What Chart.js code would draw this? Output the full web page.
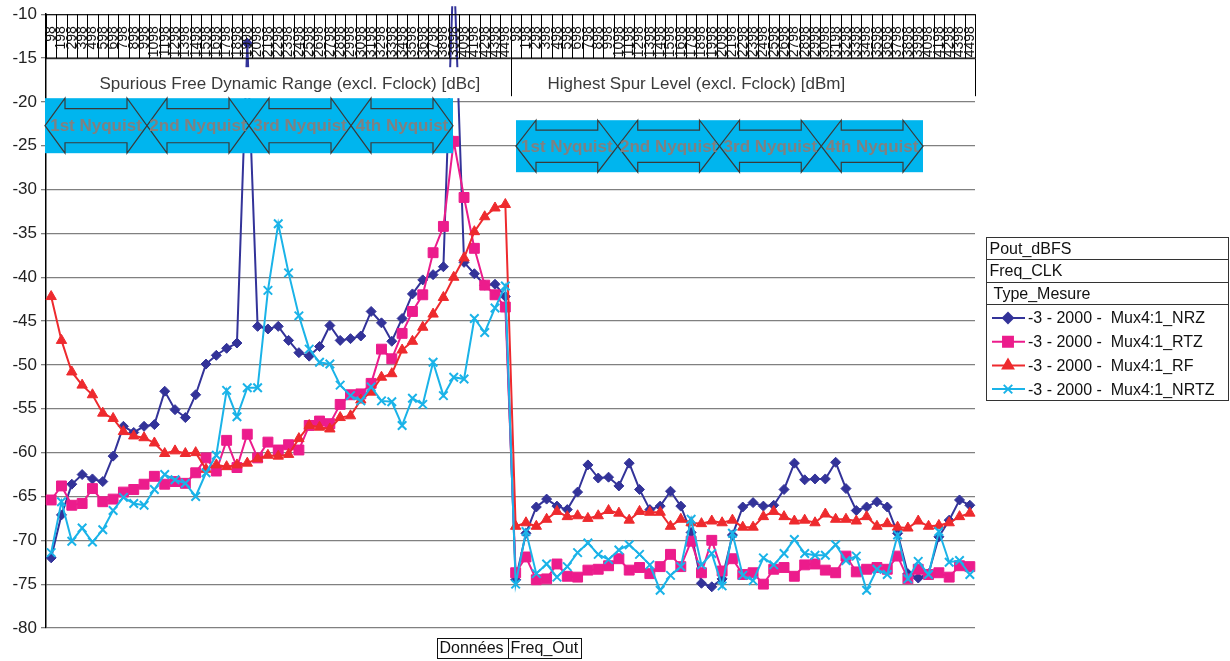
<!DOCTYPE html>
<html>
<head>
<meta charset="utf-8">
<script src="https://cdn.jsdelivr.net/npm/chart.js@4.4.0/dist/chart.umd.min.js"></script>
<style>
body { margin: 0; background: #fff; }
#wrap { width: 1230px; height: 661px; position: relative; }
</style>
</head>
<body>
<div id="wrap"><canvas id="spurChart" width="1230" height="661"></canvas></div>
<script>
// Freq_Out categories, repeated in each measurement group
var freqLabels = ['98','198','298','398','498','598','698','798','898','998',
  '1098','1198','1298','1398','1498','1598','1698','1798','1898','1998',
  '2098','2198','2298','2398','2498','2598','2698','2798','2898','2998',
  '3098','3198','3298','3398','3498','3598','3698','3798','3898','3998',
  '4098','4198','4298','4398','4498'];
var groupLabels = ['Spurious Free Dynamic Range (excl. Fclock) [dBc]', 'Highest Spur Level (excl. Fclock) [dBm]'];
var seriesNames = ['-3 - 2000 -  Mux4:1_NRZ', '-3 - 2000 -  Mux4:1_RTZ', '-3 - 2000 -  Mux4:1_RF', '-3 - 2000 -  Mux4:1_NRTZ'];
var pivotFields = ['Pout_dBFS', 'Freq_CLK', 'Type_Mesure'];
var pivotRows = ['Données', 'Freq_Out'];
var nyquistLabels = ['1st Nyquist', '2nd Nyquist', '3rd Nyquist', '4th Nyquist'];

var nrzSfdr = [-72.0,-67.1,-63.6,-62.5,-63.0,-63.3,-60.4,-57.0,-57.7,-57.0,
  -56.8,-53.0,-55.1,-56.0,-53.4,-49.9,-48.9,-48.1,-47.5,-13.3,
  -45.6,-45.9,-45.6,-47.2,-48.6,-49.0,-47.9,-45.5,-47.2,-47.0,
  -46.7,-43.9,-45.2,-47.3,-44.7,-41.9,-40.3,-39.7,-38.8,-4.0,
  -38.3,-39.6,-40.9,-40.8,-42.2];
var nrzSpur = [-74.5,-69.2,-66.2,-65.3,-66.1,-66.5,-64.5,-61.4,-62.9,-62.8,
  -63.8,-61.2,-64.2,-66.5,-66.1,-64.4,-66.1,-69.1,-74.9,-75.3,
  -74.4,-69.4,-66.2,-65.7,-66.1,-66.0,-64.2,-61.2,-63.1,-63.0,
  -63.0,-61.1,-64.1,-66.6,-66.2,-65.6,-66.2,-69.2,-73.8,-74.3,
  -73.8,-69.6,-67.7,-65.4,-66.0];
var rtzSfdr = [-65.4,-63.8,-66.0,-65.8,-64.1,-65.6,-65.3,-64.5,-64.2,-63.6,
  -62.7,-63.6,-63.3,-63.5,-62.3,-60.6,-62.1,-58.6,-61.7,-57.9,
  -60.6,-58.8,-59.7,-59.1,-59.7,-56.9,-56.4,-56.7,-54.5,-53.4,
  -53.3,-52.1,-48.2,-49.3,-46.4,-43.9,-42.0,-37.2,-34.2,-24.5,
  -30.9,-36.7,-40.9,-42.0,-43.4];
var rtzSpur = [-73.7,-71.9,-74.5,-74.4,-72.7,-74.1,-74.2,-73.4,-73.3,-72.9,
  -72.1,-73.4,-73.1,-73.8,-73.0,-71.6,-73.0,-70.1,-73.7,-70.0,
  -73.5,-72.1,-73.9,-73.7,-75.0,-73.3,-73.1,-74.1,-72.8,-72.7,
  -73.4,-73.7,-71.8,-73.6,-73.3,-73.1,-73.3,-71.8,-74.4,-73.3,
  -73.9,-73.7,-74.2,-72.9,-73.0];
var rfSfdr = [-42.2,-47.2,-50.8,-52.3,-53.4,-55.5,-56.1,-57.6,-58.1,-58.3,
  -58.9,-60.1,-59.8,-60.1,-60.0,-61.9,-61.4,-61.6,-61.4,-61.2,
  -60.7,-60.3,-60.4,-60.2,-58.4,-56.9,-57.1,-57.3,-56.0,-55.8,
  -54.0,-53.1,-51.4,-51.0,-48.3,-47.3,-45.7,-44.2,-42.3,-40.0,
  -37.8,-34.8,-33.1,-32.1,-31.7];
var rfSpur = [-68.4,-68.0,-68.4,-67.6,-66.7,-67.3,-67.2,-67.5,-67.2,-66.6,
  -66.9,-67.7,-66.7,-66.8,-66.8,-68.4,-67.6,-68.0,-68.1,-67.8,
  -68.0,-67.7,-68.5,-68.5,-67.3,-66.7,-67.3,-67.8,-67.7,-68.0,
  -67.0,-67.6,-67.6,-67.8,-67.3,-68.4,-68.1,-68.5,-68.6,-67.8,
  -68.4,-68.3,-68.0,-67.3,-66.9];
var nrtzSfdr = [-71.4,-65.6,-70.1,-68.6,-70.2,-68.8,-66.6,-65.1,-65.8,-66.0,
  -64.2,-62.5,-63.1,-63.5,-65.0,-62.3,-60.3,-52.9,-55.9,-52.6,
  -52.6,-41.5,-33.9,-39.5,-44.4,-48.2,-49.7,-49.9,-52.3,-53.5,
  -54.1,-52.5,-54.1,-54.2,-56.9,-53.8,-54.5,-49.7,-53.5,-51.4,
  -51.6,-44.7,-46.3,-43.5,-41.0];
var nrtzSpur = [-75.0,-69.0,-73.8,-72.7,-74.2,-73.0,-71.4,-70.3,-71.6,-72.2,
  -71.1,-70.5,-71.6,-72.8,-75.7,-74.0,-73.0,-67.6,-72.8,-71.5,
  -75.2,-69.2,-74.0,-74.6,-72.0,-72.8,-71.5,-69.9,-71.5,-71.7,
  -71.7,-70.5,-72.3,-71.8,-75.7,-73.3,-73.9,-69.4,-74.4,-72.4,
  -73.9,-69.0,-72.5,-72.3,-73.9];

var FONT = '"Liberation Sans", Arial, sans-serif';
var labels = freqLabels.concat(freqLabels);

function drawArrow(c, x0, x1, y0, y1, text) {
  var hl = 20, ym = (y0 + y1) / 2, inset = (y1 - y0) * 0.19;
  c.beginPath();
  c.moveTo(x0, ym);
  c.lineTo(x0 + hl, y0); c.lineTo(x0 + hl, y0 + inset);
  c.lineTo(x1 - hl, y0 + inset); c.lineTo(x1 - hl, y0);
  c.lineTo(x1, ym);
  c.lineTo(x1 - hl, y1); c.lineTo(x1 - hl, y1 - inset);
  c.lineTo(x0 + hl, y1 - inset); c.lineTo(x0 + hl, y1);
  c.closePath();
  c.stroke();
  c.fillText(text, (x0 + x1) / 2, ym + 1);
}

function drawNyquistSet(c, x, y, w, h) {
  c.fillStyle = '#00B5EE';
  c.fillRect(x, y, w, h);
  c.strokeStyle = '#3a3a3a';
  c.lineWidth = 1.2;
  c.font = 'bold 17px ' + FONT;
  c.textAlign = 'center';
  c.textBaseline = 'middle';
  var step = w / nyquistLabels.length;
  nyquistLabels.forEach(function (t, i) {
    c.fillStyle = '#808080';
    drawArrow(c, x + i * step, x + (i + 1) * step, y, y + h, t);
  });
}

var overlay = {
  id: 'overlay',
  afterDatasetsDraw: function (chart) {
    var c = chart.ctx, xs = chart.scales.x, a = chart.chartArea;
    var n = labels.length, w = (a.right - a.left) / n;
    var bandBottom = a.top + 44;
    var split = a.left + freqLabels.length * w;
    c.save();
    // white box behind the group titles
    c.fillStyle = '#fff';
    c.fillRect(a.left + 1, a.top + 53, a.right - a.left - 2, 31);
    // category label band
    c.strokeStyle = '#000';
    c.lineWidth = 1;
    c.beginPath();
    c.moveTo(a.left, a.top + 0.5); c.lineTo(a.right, a.top + 0.5);
    c.moveTo(a.left, bandBottom + 0.5); c.lineTo(a.right, bandBottom + 0.5);
    for (var k = 0; k <= n; k++) {
      var bx = Math.round(a.left + k * w) + 0.5;
      c.moveTo(bx, a.top); c.lineTo(bx, bandBottom);
    }
    c.moveTo(Math.round(split) + 0.5, bandBottom); c.lineTo(Math.round(split) + 0.5, a.top + 82);
    c.moveTo(Math.round(a.right) + 0.5, bandBottom); c.lineTo(Math.round(a.right) + 0.5, a.top + 82);
    c.stroke();
    c.fillStyle = '#111';
    c.font = '14px ' + FONT;
    c.textAlign = 'right';
    c.textBaseline = 'middle';
    labels.forEach(function (lab, i) {
      c.save();
      c.translate(xs.getPixelForValue(i), a.top + 12);
      c.rotate(-Math.PI / 2);
      c.fillText(lab, 0, 0);
      c.restore();
    });
    // group titles
    c.fillStyle = '#3a3a3a';
    c.font = '17px ' + FONT;
    c.textAlign = 'center';
    c.fillText(groupLabels[0], a.left + (split - a.left) * 0.525, a.top + 70);
    c.fillText(groupLabels[1], split + (a.right - split) * 0.40, a.top + 70);
    // Nyquist zone markers
    drawNyquistSet(c, a.left - 1, a.top + 84, 408, 55);
    drawNyquistSet(c, 516, a.top + 106, 407, 52);
    c.restore();
  },
  afterDraw: function (chart) {
    var c = chart.ctx;
    c.save();
    c.strokeStyle = '#333';
    c.lineWidth = 1;
    c.font = '16px ' + FONT;
    c.textBaseline = 'middle';
    c.textAlign = 'left';
    c.fillStyle = '#111';
    // legend with pivot field buttons
    var lx = 986.5, ly = 237.5, lw = 242, rowH = [22, 23, 22];
    c.strokeRect(lx, ly, lw, 163);
    var yy = ly;
    pivotFields.forEach(function (f, i) {
      c.fillText(f, lx + (i === 2 ? 7 : 3), yy + rowH[i] / 2 + 1);
      yy += rowH[i];
      c.beginPath(); c.moveTo(lx, yy); c.lineTo(lx + lw, yy); c.stroke();
    });
    chart.data.datasets.forEach(function (ds, i) {
      var cy = 318 + i * 23.7;
      c.strokeStyle = ds.borderColor;
      c.fillStyle = ds.backgroundColor;
      c.lineWidth = 2;
      c.beginPath(); c.moveTo(992, cy); c.lineTo(1025, cy); c.stroke();
      Chart.helpers.drawPoint(c, { pointStyle: ds.pointStyle, radius: ds.pointRadius, rotation: 0, borderWidth: ds.pointBorderWidth }, 1008, cy);
      c.fillStyle = '#111';
      c.fillText(seriesNames[i], 1028, cy + 1);
    });
    // row field buttons
    c.strokeStyle = '#111';
    c.lineWidth = 1;
    var bx = 437.5;
    [71, 73].forEach(function (bw, i) {
      c.strokeRect(bx, 638.5, bw, 20);
      c.fillText(pivotRows[i], bx + 2, 649);
      bx += bw;
    });
    c.restore();
  }
};

var ctx = document.getElementById('spurChart').getContext('2d');
var spurChart = new Chart(ctx, {
  type: 'line',
  data: {
    labels: labels,
    datasets: [
      { label: seriesNames[0], data: nrzSfdr.concat(nrzSpur), borderColor: '#333399', backgroundColor: '#333399',
        pointStyle: 'rectRot', pointRadius: 5, pointBorderWidth: 1, borderWidth: 2, order: 4,
        clip: { left: 5, top: 8, right: 5, bottom: 5 } },
      { label: seriesNames[1], data: rtzSfdr.concat(rtzSpur), borderColor: '#EC1C8C', backgroundColor: '#EC1C8C',
        pointStyle: 'rect', pointRadius: 7, pointBorderWidth: 1, borderWidth: 2, order: 3 },
      { label: seriesNames[2], data: rfSfdr.concat(rfSpur), borderColor: '#EE2A2E', backgroundColor: '#EE2A2E',
        pointStyle: 'triangle', pointRadius: 6, pointBorderWidth: 1, borderWidth: 2, order: 2 },
      { label: seriesNames[3], data: nrtzSfdr.concat(nrtzSpur), borderColor: '#1AB3E8', backgroundColor: '#1AB3E8',
        pointStyle: 'crossRot', pointRadius: 6, pointBorderWidth: 2, borderWidth: 2, order: 1 }
    ]
  },
  options: {
    responsive: false,
    animation: false,
    layout: { padding: { top: 13, bottom: 33, left: 0, right: 255 } },
    plugins: { legend: { display: false }, tooltip: { enabled: false } },
    elements: { line: { tension: 0 } },
    scales: {
      x: { type: 'category', display: false, offset: true },
      y: {
        min: -80, max: -10,
        ticks: { stepSize: 5, color: '#222', padding: 4, font: { family: FONT, size: 17 } },
        grid: { color: '#808080', lineWidth: 1.3, tickLength: 5 },
        border: { color: '#000', width: 1.5 },
        afterFit: function (s) { s.width = 46; }
      }
    }
  },
  plugins: [overlay]
});
</script>
</body>
</html>
